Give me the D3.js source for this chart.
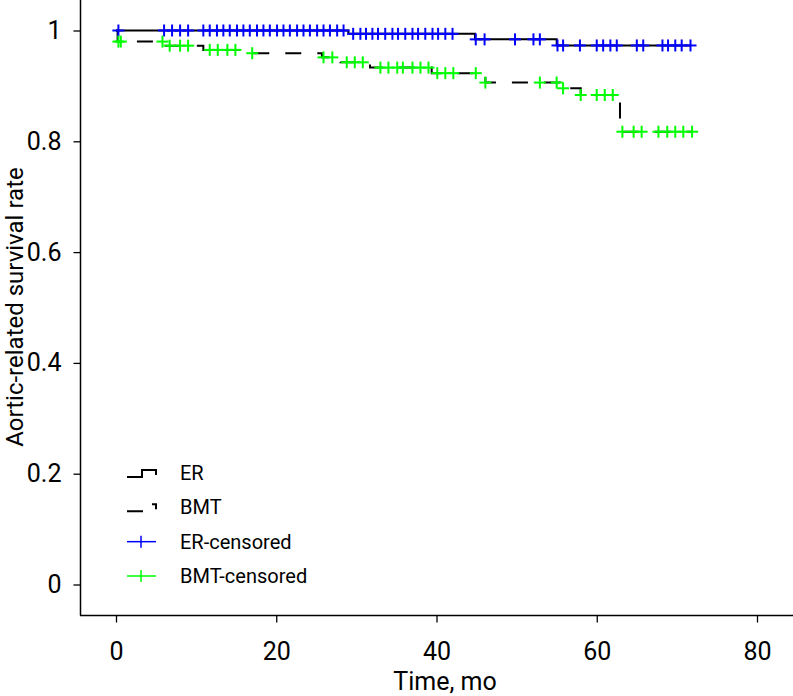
<!DOCTYPE html>
<html>
<head>
<meta charset="utf-8">
<script src="https://cdn.jsdelivr.net/npm/d3@7"></script>
<style>
    body { margin: 0; background: #fff; }
    svg text { font-family: Roboto, "Liberation Sans", sans-serif; fill: #000; }
    svg .tick text { font-family: "Liberation Sans Narrow", Roboto, sans-serif; }
</style>
</head>
<body>
<div id="chart"></div>
<script>
// Kaplan-Meier steps: time of each drop and the survival after it
const erTimes = [0, 29.0, 44.8, 55.0];
const erSurv = [1, 0.994, 0.984, 0.973];
const erEnd = 71.7;
const erCensor = [0.3, 6.0, 7.0, 8.0, 9.0,
    10.9, 11.7, 12.6, 13.4, 14.2, 15.1, 15.9, 16.7, 17.6, 18.4, 19.2, 20.1, 20.9,
    21.7, 22.6, 23.4, 24.2, 25.1, 25.9, 26.7, 27.6, 28.4,
    29.6, 30.5, 31.2, 32.0, 32.7, 33.6, 34.5, 35.2, 36.1, 37.0, 37.7, 38.6, 39.5, 40.2, 41.1, 42.0,
    44.9, 46.0, 49.8, 52.1, 52.9,
    55.1, 55.8, 57.9, 60.0, 60.8, 61.7, 62.5, 65.0, 65.8, 68.2, 68.9, 69.8, 70.6, 71.7];

const bmtTimes = [0, 0.2, 6.0, 10.9, 15.9, 25.7, 28.0, 31.7, 39.4, 46.1, 55.4, 58.0, 62.9];
const bmtSurv = [1, 0.980, 0.9726, 0.965, 0.959, 0.9515, 0.9426, 0.933, 0.923, 0.906, 0.8957, 0.8836, 0.8173];
const bmtEnd = 71.9;
const bmtCensor = [0.3, 0.6, 5.8, 6.7, 8.0, 9.0,
    11.7, 12.7, 13.9, 14.9, 17.0, 25.9, 27.0, 28.8, 29.8, 30.8,
    33.0, 34.0, 35.1, 35.8, 37.0, 38.0, 39.0, 40.1, 41.1, 42.1, 44.9,
    46.1, 52.9, 55.0, 55.8, 58.0, 60.0, 61.0, 62.0,
    63.2, 64.6, 65.6, 67.7, 68.8, 69.8, 70.8, 71.9];

const xTicks = [0, 20, 40, 60, 80];
const yTicks = [0, 0.2, 0.4, 0.6, 0.8, 1];
const legendItems = ['ER', 'BMT', 'ER-censored', 'BMT-censored'];

const width = 793, height = 696;

const svg = d3.select('#chart')
    .append('svg')
    .attr('width', width)
    .attr('height', height);

const x = d3.scaleLinear().domain([0, 80]).range([116, 757]);
const y = d3.scaleLinear().domain([0, 1]).range([584.5, 30.5]);

// survival value at time t (right-continuous step)
function survAt(times, surv, t) {
    const i = d3.bisectRight(times, t) - 1;
    return surv[Math.max(i, 0)];
}

function stepPoints(times, surv, end) {
    const pts = times.map((t, i) => [t, surv[i]]);
    pts.push([end, surv[surv.length - 1]]);
    return pts;
}

// axes (R style L-box)
svg.append('line')
    .attr('x1', 80.5).attr('x2', 80.5)
    .attr('y1', 0).attr('y2', 615.5)
    .attr('stroke', '#000').attr('stroke-width', 1.5);
svg.append('line')
    .attr('x1', 80).attr('x2', width)
    .attr('y1', 615.5).attr('y2', 615.5)
    .attr('stroke', '#000').attr('stroke-width', 1.5);

const xAxis = svg.append('g')
    .attr('transform', 'translate(0,615.5)')
    .call(d3.axisBottom(x).tickValues(xTicks).tickSize(7).tickPadding(20).tickFormat(d3.format('d')));
xAxis.select('.domain').remove();
xAxis.selectAll('text').style('font-size', '25px');
xAxis.selectAll('line').attr('stroke-width', 1.3);

const yAxis = svg.append('g')
    .attr('transform', 'translate(80.5,0)')
    .call(d3.axisLeft(y).tickValues(yTicks).tickSize(7).tickPadding(12).tickFormat(d => d === 0 || d === 1 ? d : d.toFixed(1)));
yAxis.select('.domain').remove();
yAxis.selectAll('text').style('font-size', '25px');
yAxis.selectAll('line').attr('stroke-width', 1.3);

svg.append('text')
    .attr('x', 445).attr('y', 690)
    .attr('text-anchor', 'middle')
    .style('font-size', '25px')
    .text('Time, mo');

svg.append('text')
    .attr('transform', 'translate(23,307) rotate(-90)')
    .attr('text-anchor', 'middle')
    .style('font-size', '24px')
    .text('Aortic-related survival rate');

// curves
const line = d3.line()
    .x(d => x(d[0]))
    .y(d => y(d[1]))
    .curve(d3.curveStepAfter);

svg.append('path')
    .datum(stepPoints(erTimes, erSurv, erEnd))
    .attr('d', line)
    .attr('fill', 'none')
    .attr('stroke', '#000')
    .attr('stroke-width', 2);

svg.append('path')
    .datum(stepPoints(bmtTimes, bmtSurv, bmtEnd))
    .attr('d', line)
    .attr('fill', 'none')
    .attr('stroke', '#000')
    .attr('stroke-width', 2)
    .attr('stroke-dasharray', '16,16');

// censoring crosses
function drawCrosses(times, surv, censor, color) {
    const g = svg.append('g')
        .attr('stroke', color)
        .attr('stroke-width', 2);
    const pts = g.selectAll('g')
        .data(censor)
        .enter().append('g')
        .attr('transform', t => `translate(${x(t)},${y(survAt(times, surv, t))})`);
    pts.append('line').attr('x1', -6).attr('x2', 6);
    pts.append('line').attr('y1', -6).attr('y2', 6);
}

drawCrosses(erTimes, erSurv, erCensor, '#0000ff');
drawCrosses(bmtTimes, bmtSurv, bmtCensor, '#00ff00');

// legend
const legend = svg.append('g');
const rowY = d3.scaleLinear().domain([0, 3]).range([473, 576]);

legendItems.forEach((name, i) => {
    const cy = rowY(i);
    if (i < 2) {
        legend.append('path')
            .attr('d', `M127,${cy + 4}H142V${cy - 3}H156V${cy + 2}`)
            .attr('fill', 'none')
            .attr('stroke', '#000')
            .attr('stroke-width', 2)
            .attr('stroke-dasharray', i === 1 ? '16,16' : null);
    } else {
        const col = i === 2 ? '#0000ff' : '#00ff00';
        legend.append('line')
            .attr('x1', 127).attr('x2', 156)
            .attr('y1', cy).attr('y2', cy)
            .attr('stroke', col).attr('stroke-width', 1.5);
        legend.append('line')
            .attr('x1', 141).attr('x2', 141)
            .attr('y1', cy - 6).attr('y2', cy + 6)
            .attr('stroke', col).attr('stroke-width', 1.5);
    }
    legend.append('text')
        .attr('x', 180).attr('y', cy + 7)
        .style('font-size', '20px')
        .text(name);
});
</script>
</body>
</html>
